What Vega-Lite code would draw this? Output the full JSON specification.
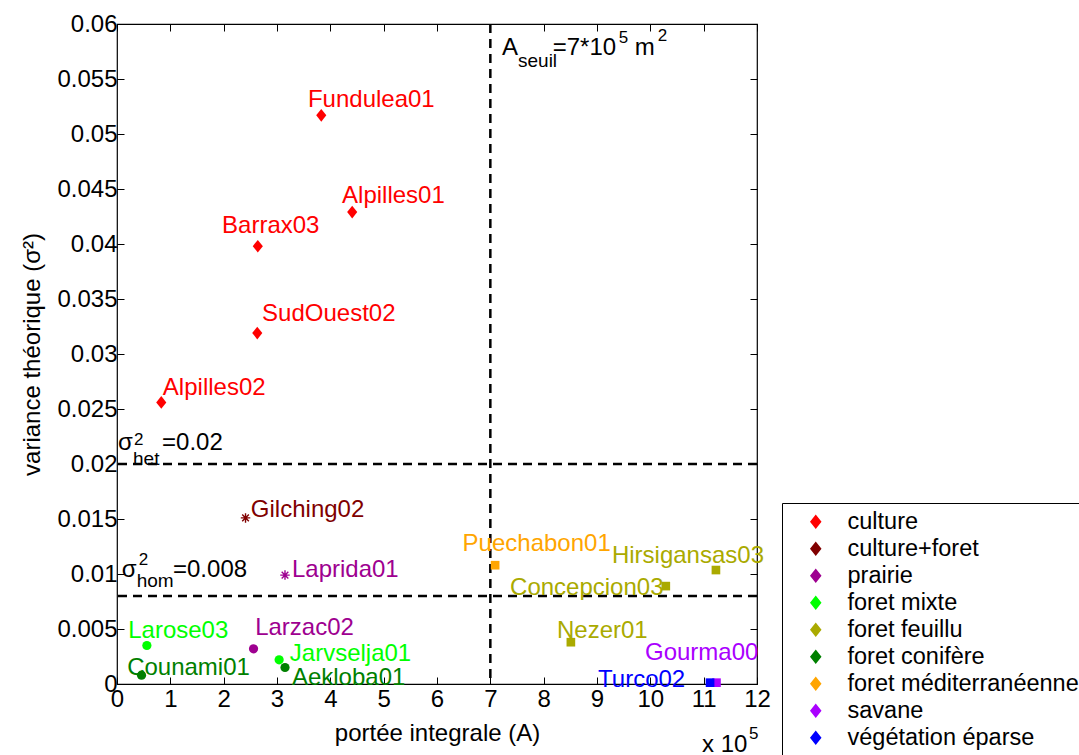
{
  "$schema": "https://vega.github.io/schema/vega-lite/v6.json",
  "width": 640,
  "height": 660,
  "autosize": {"type": "none"},
  "padding": {"left": 117, "top": 24, "right": 322, "bottom": 71},
  "background": "white",
  "config": {
    "font": "Liberation Sans",
    "view": {"stroke": "#000000", "strokeWidth": 1.2},
    "axis": {"grid": false, "domain": false, "tickColor": "#000000", "labelColor": "#000000", "titleColor": "#000000", "labelFont": "Liberation Sans", "titleFont": "Liberation Sans", "labelFontSize": 24, "titleFontSize": 24, "titleFontWeight": "normal", "tickSize": -7, "tickWidth": 1, "labelFlush": false}
  },
  "datasets": {
    "sites": [
      {"site": "Fundulea01", "type": "culture", "forme": "losange", "A": 3.83, "var": 0.0517, "lx": 3.58, "ly": 0.05245},
      {"site": "Alpilles01", "type": "culture", "forme": "losange", "A": 4.41, "var": 0.0429, "lx": 4.22, "ly": 0.04373},
      {"site": "Barrax03", "type": "culture", "forme": "losange", "A": 2.64, "var": 0.0398, "lx": 1.97, "ly": 0.041},
      {"site": "SudOuest02", "type": "culture", "forme": "losange", "A": 2.63, "var": 0.0319, "lx": 2.72, "ly": 0.033},
      {"site": "Alpilles02", "type": "culture", "forme": "losange", "A": 0.83, "var": 0.0256, "lx": 0.86, "ly": 0.02627},
      {"site": "Gilching02", "type": "culture+foret", "forme": "étoile", "A": 2.41, "var": 0.0151, "lx": 2.51, "ly": 0.01518},
      {"site": "Laprida01", "type": "prairie", "forme": "étoile", "A": 3.15, "var": 0.0099, "lx": 3.28, "ly": 0.00973},
      {"site": "Larzac02", "type": "prairie", "forme": "cercle", "A": 2.56, "var": 0.0032, "lx": 2.59, "ly": 0.00445},
      {"site": "Larose03", "type": "foret mixte", "forme": "cercle", "A": 0.56, "var": 0.0035, "lx": 0.21, "ly": 0.00418},
      {"site": "Jarvselja01", "type": "foret mixte", "forme": "cercle", "A": 3.04, "var": 0.0022, "lx": 3.24, "ly": 0.00209},
      {"site": "Counami01", "type": "foret conifère", "forme": "cercle", "A": 0.46, "var": 0.0008, "lx": 0.19, "ly": 0.00082},
      {"site": "Aekloba01", "type": "foret conifère", "forme": "cercle", "A": 3.15, "var": 0.0015, "lx": 3.28, "ly": -0.0001},
      {"site": "Puechabon01", "type": "foret méditerranéenne", "forme": "carré", "A": 7.09, "var": 0.0108, "lx": 6.48, "ly": 0.01212},
      {"site": "Hirsigansas03", "type": "foret feuillu", "forme": "carré", "A": 11.23, "var": 0.01036, "lx": 9.28, "ly": 0.011},
      {"site": "Concepcion03", "type": "foret feuillu", "forme": "carré", "A": 10.29, "var": 0.0089, "lx": 7.37, "ly": 0.00809},
      {"site": "Nezer01", "type": "foret feuillu", "forme": "carré", "A": 8.51, "var": 0.0038, "lx": 8.25, "ly": 0.00418},
      {"site": "Gourma00", "type": "savane", "forme": "carré", "A": 11.24, "var": 0.00012, "lx": 9.9, "ly": 0.00218},
      {"site": "Turco02", "type": "végétation éparse", "forme": "carré", "A": 11.12, "var": 0.00012, "lx": 9.02, "ly": -0.0003}
    ],
    "annot_big": [
      {"t": "σ", "x": 0.02, "y": 0.02127},
      {"t": "=0.02", "x": 0.844, "y": 0.02127},
      {"t": "σ", "x": 0.088, "y": 0.00975},
      {"t": "=0.008", "x": 1.05, "y": 0.00975},
      {"t": "A", "x": 7.219, "y": 0.05718},
      {"t": "=7*10", "x": 8.17, "y": 0.05718},
      {"t": "m", "x": 9.71, "y": 0.05718},
      {"t": "x 10", "x": 10.97, "y": -0.00618}
    ],
    "annot_sup": [
      {"t": "2", "x": 0.32, "y": 0.02173},
      {"t": "2", "x": 0.41, "y": 0.01082},
      {"t": "5", "x": 9.41, "y": 0.0583},
      {"t": "2", "x": 10.14, "y": 0.05848},
      {"t": "5", "x": 11.85, "y": -0.005}
    ],
    "annot_sub": [
      {"t": "het", "x": 0.3, "y": 0.01991},
      {"t": "hom", "x": 0.37, "y": 0.00885},
      {"t": "seuil", "x": 7.519, "y": 0.05612}
    ]
  },
  "data": {"name": "sites"},
  "resolve": {"axis": {"x": "independent", "y": "independent"}},
  "layer": [
    {
      "data": {"values": [{"seuil": 7}]},
      "mark": {"type": "rule", "color": "#000000", "strokeWidth": 2.5, "strokeDash": [9, 6]},
      "encoding": {
        "x": {"field": "seuil", "type": "quantitative", "scale": {"domain": [0, 12], "nice": false, "zero": false},
          "axis": {"orient": "top", "values": [0, 1, 2, 3, 4, 5, 6, 7, 8, 9, 10, 11, 12], "labels": false, "title": null, "domain": false}}
      }
    },
    {
      "data": {"values": [{"s": 0.02}, {"s": 0.008}]},
      "mark": {"type": "rule", "color": "#000000", "strokeWidth": 2.5, "strokeDash": [9, 6]},
      "encoding": {
        "y": {"field": "s", "type": "quantitative", "scale": {"domain": [0, 0.06], "nice": false, "zero": false},
          "axis": {"orient": "right", "values": [0, 0.005, 0.01, 0.015, 0.02, 0.025, 0.03, 0.035, 0.04, 0.045, 0.05, 0.055, 0.06], "labels": false, "title": null, "domain": false}}
      }
    },
    {
      "transform": [{"filter": "datum.forme == 'losange'"}],
      "mark": {"type": "point", "shape": "M0,-1L0.8,0L0,1L-0.8,0Z", "size": 160, "filled": true, "opacity": 1},
      "encoding": {
        "x": {"field": "A", "type": "quantitative", "scale": {"domain": [0, 12], "nice": false, "zero": false},
          "axis": {"orient": "bottom", "values": [0, 1, 2, 3, 4, 5, 6, 7, 8, 9, 10, 11, 12], "format": "d", "title": "portée integrale (A)", "labelPadding": 10, "titlePadding": 10}},
        "y": {"field": "var", "type": "quantitative", "scale": {"domain": [0, 0.06], "nice": false, "zero": false},
          "axis": {"orient": "left", "values": [0, 0.005, 0.01, 0.015, 0.02, 0.025, 0.03, 0.035, 0.04, 0.045, 0.05, 0.055, 0.06], "format": ".3~f", "title": "variance théorique (σ²)", "labelPadding": 7, "titlePadding": 12}},
        "color": {"field": "type", "type": "nominal",
          "scale": {"domain": ["culture", "culture+foret", "prairie", "foret mixte", "foret feuillu", "foret conifère", "foret méditerranéenne", "savane", "végétation éparse"],
            "range": ["#ff0000", "#800000", "#9e0090", "#00ff00", "#aaaa00", "#008000", "#ffa500", "#aa00ff", "#0000ff"]},
          "legend": {"title": null, "orient": "none", "legendX": 665, "legendY": 479, "padding": 7, "symbolOffset": 15, "labelOffset": 20, "rowPadding": 2,
            "symbolType": "M0,-1L0.8,0L0,1L-0.8,0Z", "symbolSize": 144, "labelFontSize": 23.5, "labelFont": "Liberation Sans", "labelColor": "#000000", "labelLimit": 0,
            "strokeColor": "#000000", "fillColor": "#ffffff",
            "encode": {"symbols": {"update": {"fill": {"scale": "color", "field": "value"}, "stroke": {"value": "transparent"}, "opacity": {"value": 1}}}}}}
      }
    },
    {
      "transform": [{"filter": "datum.forme == 'cercle'"}],
      "mark": {"type": "point", "shape": "circle", "size": 85, "filled": true, "opacity": 1},
      "encoding": {
        "x": {"field": "A", "type": "quantitative", "scale": {"domain": [0, 12], "nice": false, "zero": false}, "axis": null},
        "y": {"field": "var", "type": "quantitative", "scale": {"domain": [0, 0.06], "nice": false, "zero": false}, "axis": null},
        "color": {"field": "type", "type": "nominal", "legend": null}
      }
    },
    {
      "transform": [{"filter": "datum.forme == 'carré'"}],
      "mark": {"type": "point", "shape": "square", "size": 75, "filled": true, "opacity": 1},
      "encoding": {
        "x": {"field": "A", "type": "quantitative", "scale": {"domain": [0, 12], "nice": false, "zero": false}, "axis": null},
        "y": {"field": "var", "type": "quantitative", "scale": {"domain": [0, 0.06], "nice": false, "zero": false}, "axis": null},
        "color": {"field": "type", "type": "nominal", "legend": null}
      }
    },
    {
      "transform": [{"filter": "datum.forme == 'étoile'"}],
      "mark": {"type": "point", "shape": "M-1,0L1,0M0,-1L0,1M-0.7,-0.7L0.7,0.7M-0.7,0.7L0.7,-0.7", "size": 90, "filled": false, "strokeWidth": 1.4, "opacity": 1},
      "encoding": {
        "x": {"field": "A", "type": "quantitative", "scale": {"domain": [0, 12], "nice": false, "zero": false}, "axis": null},
        "y": {"field": "var", "type": "quantitative", "scale": {"domain": [0, 0.06], "nice": false, "zero": false}, "axis": null},
        "color": {"field": "type", "type": "nominal", "legend": null}
      }
    },
    {
      "mark": {"type": "text", "align": "left", "baseline": "alphabetic", "fontSize": 24, "font": "Liberation Sans"},
      "encoding": {
        "x": {"field": "lx", "type": "quantitative", "scale": {"domain": [0, 12], "nice": false, "zero": false}, "axis": null},
        "y": {"field": "ly", "type": "quantitative", "scale": {"domain": [0, 0.06], "nice": false, "zero": false}, "axis": null},
        "text": {"field": "site"},
        "color": {"field": "type", "type": "nominal", "legend": null}
      }
    },
    {
      "data": {"name": "annot_big"},
      "mark": {"type": "text", "align": "left", "baseline": "alphabetic", "fontSize": 24, "font": "Liberation Sans", "color": "#000000"},
      "encoding": {
        "x": {"field": "x", "type": "quantitative", "scale": {"domain": [0, 12], "nice": false, "zero": false}, "axis": null},
        "y": {"field": "y", "type": "quantitative", "scale": {"domain": [0, 0.06], "nice": false, "zero": false}, "axis": null},
        "text": {"field": "t"}
      }
    },
    {
      "data": {"name": "annot_sup"},
      "mark": {"type": "text", "align": "left", "baseline": "alphabetic", "fontSize": 17, "font": "Liberation Sans", "color": "#000000"},
      "encoding": {
        "x": {"field": "x", "type": "quantitative", "scale": {"domain": [0, 12], "nice": false, "zero": false}, "axis": null},
        "y": {"field": "y", "type": "quantitative", "scale": {"domain": [0, 0.06], "nice": false, "zero": false}, "axis": null},
        "text": {"field": "t"}
      }
    },
    {
      "data": {"name": "annot_sub"},
      "mark": {"type": "text", "align": "left", "baseline": "alphabetic", "fontSize": 19, "font": "Liberation Sans", "color": "#000000"},
      "encoding": {
        "x": {"field": "x", "type": "quantitative", "scale": {"domain": [0, 12], "nice": false, "zero": false}, "axis": null},
        "y": {"field": "y", "type": "quantitative", "scale": {"domain": [0, 0.06], "nice": false, "zero": false}, "axis": null},
        "text": {"field": "t"}
      }
    }
  ]
}
